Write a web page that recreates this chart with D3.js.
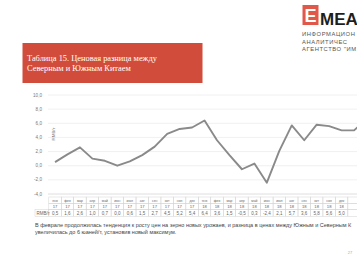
<!DOCTYPE html>
<html>
<head>
<meta charset="utf-8">
<script src="https://cdn.jsdelivr.net/npm/d3@7/dist/d3.min.js"></script>
<style>
    html, body { margin: 0; padding: 0; background: #fff; }
    svg { display: block; }
</style>
</head>
<body>
<div id="chart"></div>
<script>
// monthly price gap, Jan 2017 .. Feb 2019 (last point runs off the page)
const months = ["янв", "фев", "мар", "апр", "май", "июн", "июл", "авг", "сен", "окт", "ноя", "дек",
                "янв", "фев", "мар", "апр", "май", "июн", "июл", "авг", "сен", "окт", "ноя", "дек",
                "янв", "фев"];
const years = ["17", "17", "17", "17", "17", "17", "17", "17", "17", "17", "17", "17",
               "18", "18", "18", "18", "18", "18", "18", "18", "18", "18", "18", "18",
               "19", "19"];
const priceGap = [0.5, 1.6, 2.6, 1.0, 0.7, 0.0, 0.6, 1.5, 2.7, 4.5, 5.2, 5.4, 6.4,
                  3.6, 1.5, -0.5, 0.3, -2.4, 2.1, 5.7, 3.6, 5.8, 5.6, 5.0, 5.0, 6.6];
const yTicks = [-4, -2, 0, 2, 4, 6, 8, 10];

const titleLines = ["Таблица 15. Ценовая разница между", "Северным и Южным Китаем"];
// the page is cropped on the right, only the visible part of these is kept
const logoLines = ["ИНФОРМАЦИОН", "АНАЛИТИЧЕС", "АГЕНТСТВО \"ИМ"];
const noteLines = [
    "В феврале продолжилась тенденция к росту цен на зерно новых урожаев, и разница в ценах между Южным и Северным К",
    "увеличилась до 6 юаней/т, установив новый максимум."
];
const unitLabel = "RMB/т";

const width = 357, height = 260;
const fmt = v => d3.format(".1f")(v).replace(".", ",").replace("−", "-");

const svg = d3.select("#chart").append("svg")
    .attr("width", width)
    .attr("height", height)
    .style("font-family", "'Liberation Sans', Arial, sans-serif");

svg.append("rect").attr("width", width).attr("height", height).attr("fill", "#fff");

// ---- header: logo + red title plate
let logo = svg.append("g");
logo.append("rect")
    .attr("x", 302.5).attr("y", 5).attr("width", 16).attr("height", 20)
    .attr("fill", "#e0584a");
logo.append("text")
    .attr("x", 310.5).attr("y", 22)
    .attr("text-anchor", "middle")
    .attr("fill", "#fff")
    .style("font-size", "18px").style("font-weight", "bold")
    .text("Е");
logo.append("text")
    .attr("x", 320).attr("y", 25)
    .attr("fill", "#1e1e1e")
    .style("font-size", "17px").style("font-weight", "bold")
    .text("МЕА");
logo.selectAll("text.sub").data(logoLines)
    .enter().append("text")
    .classed("sub", true)
    .attr("x", 302).attr("y", (d, i) => 36 + i * 7.5)
    .attr("fill", "#555")
    .style("font-size", "5.8px")
    .style("letter-spacing", "0.6px")
    .text(d => d);

svg.append("rect")
    .attr("x", 22.5).attr("y", 43).attr("width", 180).attr("height", 40)
    .attr("fill", "#d24c3b");
svg.selectAll("text.title").data(titleLines)
    .enter().append("text")
    .classed("title", true)
    .attr("x", 27).attr("y", (d, i) => 61 + i * 9.5)
    .attr("fill", "#fff")
    .style("font-family", "'Liberation Serif', 'DejaVu Serif', serif")
    .style("font-size", "8.4px")
    .text(d => d);

// ---- chart
const step = 12.46;
const x = d3.scaleBand()
    .domain(d3.range(priceGap.length))
    .range([48.8, 48.8 + step * priceGap.length])
    .padding(0);
const y = d3.scaleLinear().domain([-4, 10]).range([194, 95]);
const xMid = i => x(i) + x.bandwidth() / 2;

let grid = svg.append("g");
grid.selectAll("line").data(yTicks)
    .enter().append("line")
    .attr("x1", 48).attr("x2", width)
    .attr("y1", d => y(d)).attr("y2", d => y(d))
    .attr("stroke", d => d === -4 ? "#d6d6d6" : "#ececec")
    .attr("stroke-width", 0.8);

grid.selectAll("text").data(yTicks)
    .enter().append("text")
    .attr("x", 42).attr("y", d => y(d) + 1.6)
    .attr("text-anchor", "end")
    .attr("fill", "#777")
    .style("font-size", "4.6px")
    .text(d => fmt(d));

svg.append("text")
    .attr("transform", "translate(54.5," + y(4.5) + ") rotate(-90)")
    .attr("text-anchor", "middle")
    .attr("fill", "#777")
    .style("font-size", "4.4px")
    .text(unitLabel);

const line = d3.line()
    .x((d, i) => xMid(i))
    .y(d => y(d));

svg.append("path")
    .datum(priceGap)
    .attr("d", line)
    .attr("fill", "none")
    .attr("stroke", "#8a8a8a")
    .attr("stroke-width", 1.9)
    .attr("stroke-linejoin", "round");

// ---- data table under the plot
const rowTop = [197, 203.5, 209.5];
const rowH = [6.5, 6, 7];
let table = svg.append("g");
const tableRows = [months, years, priceGap.map(fmt)];
const rowFont = ["3.4px", "4.2px", "4.5px"];

tableRows.forEach((row, r) => {
    let cells = table.selectAll("g.r" + r).data(row)
        .enter().append("g")
        .attr("class", "r" + r);
    cells.append("rect")
        .attr("x", (d, i) => x(i)).attr("y", rowTop[r])
        .attr("width", x.bandwidth()).attr("height", rowH[r])
        .attr("fill", "none")
        .attr("stroke", "#d4d4d4")
        .attr("stroke-width", 0.5);
    // cells past the page edge keep their box but no label
    cells.filter((d, i) => xMid(i) + 4 < width)
        .append("text")
        .attr("x", (d, i) => xMid(i))
        .attr("y", rowTop[r] + rowH[r] / 2 + 1.5)
        .attr("text-anchor", "middle")
        .attr("fill", "#666")
        .style("font-size", rowFont[r])
        .text(d => d);
});

table.append("rect")
    .attr("x", 35).attr("y", rowTop[2])
    .attr("width", x(0) - 35).attr("height", rowH[2])
    .attr("fill", "none")
    .attr("stroke", "#d4d4d4")
    .attr("stroke-width", 0.5);
table.append("text")
    .attr("x", 36.5).attr("y", rowTop[2] + rowH[2] / 2 + 1.5)
    .attr("fill", "#666")
    .style("font-size", "4.5px")
    .text(unitLabel);

// ---- comment under the chart
svg.selectAll("text.note").data(noteLines)
    .enter().append("text")
    .classed("note", true)
    .attr("x", 35).attr("y", (d, i) => 226.5 + i * 7.5)
    .attr("fill", "#444")
    .style("font-size", "5.5px")
    .text(d => d);

svg.append("text")
    .attr("x", 350).attr("y", 254)
    .attr("text-anchor", "middle")
    .attr("fill", "#aaa")
    .style("font-size", "4px")
    .text("27");
</script>
</body>
</html>
